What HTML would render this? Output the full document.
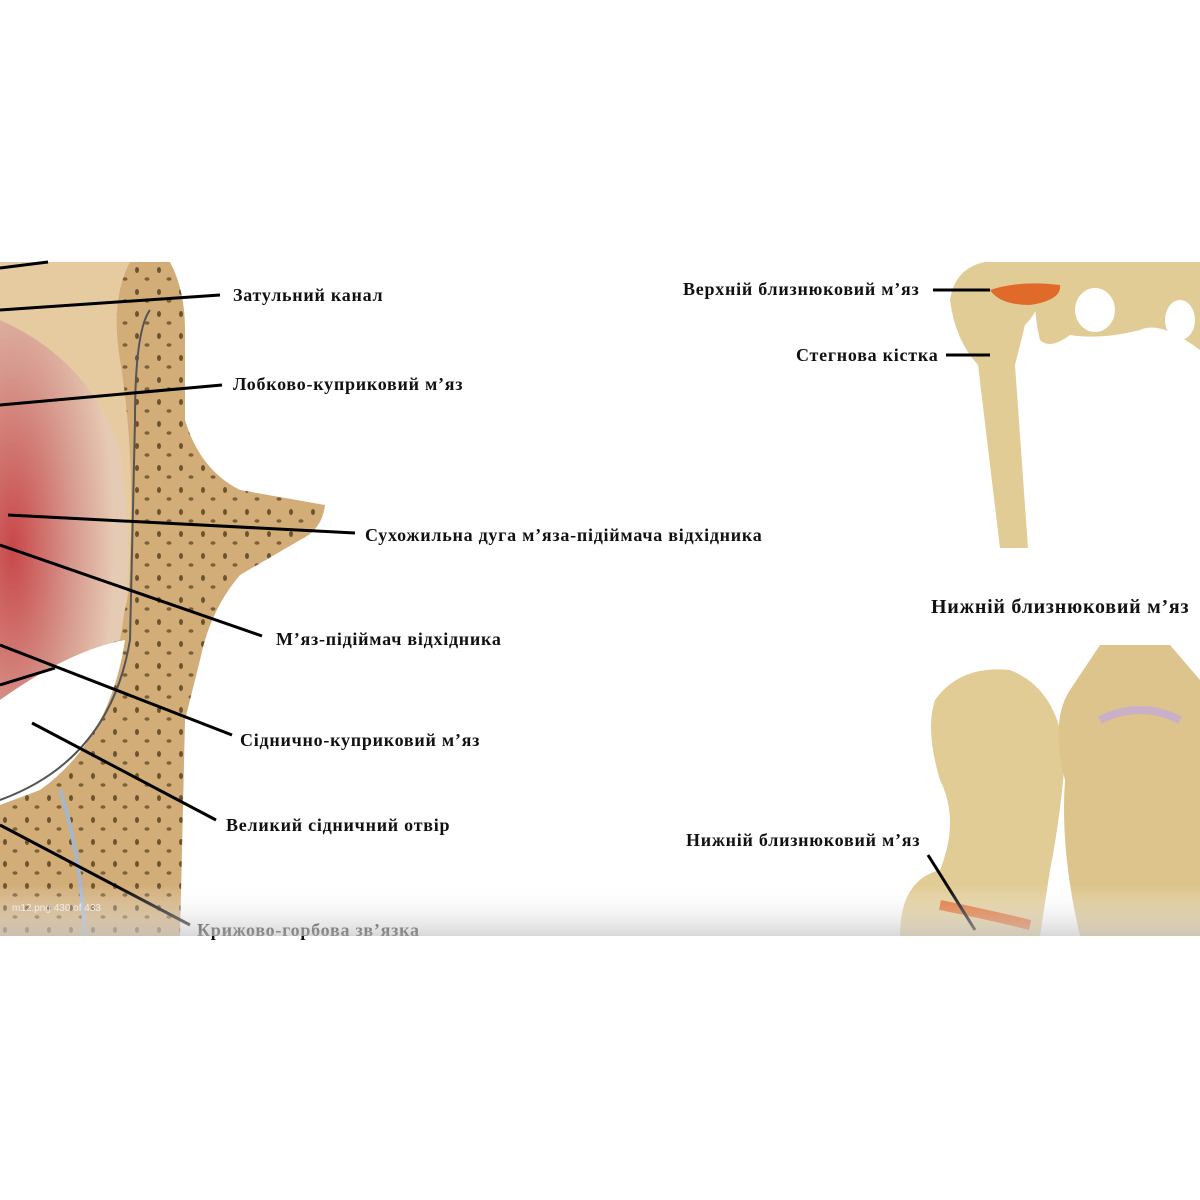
<!DOCTYPE html>
<html><head><meta charset="utf-8"><style>
body{margin:0;width:1200px;height:1200px;background:#fff;overflow:hidden}
svg{display:block}
text{font-family:"Liberation Serif",serif;font-weight:bold;font-size:18px;letter-spacing:0.75px;fill:#111}
</style></head><body>
<svg width="1200" height="1200" viewBox="0 0 1200 1200">
<defs>
<linearGradient id="bar" x1="0" y1="0" x2="0" y2="1"><stop offset="0" stop-color="#fff" stop-opacity="0"/><stop offset="1" stop-color="#c8c8c8" stop-opacity="0.7"/></linearGradient>
<radialGradient id="mus" cx="0.1" cy="0.6" r="0.8"><stop offset="0" stop-color="#c8474a"/><stop offset="0.6" stop-color="#d79a8e"/><stop offset="1" stop-color="#e6cbb4"/></radialGradient>
<pattern id="dots" width="22" height="22" patternUnits="userSpaceOnUse"><rect width="22" height="22" fill="#d2ad78"/><ellipse cx="5" cy="6" rx="2" ry="3" fill="#6b5330"/><ellipse cx="15" cy="15" rx="2.5" ry="1.8" fill="#7a5f38"/></pattern>
</defs>
<rect x="0" y="262" width="150" height="674" fill="#e0c28e"/>
<path d="M150,262 L170,262 Q185,290 185,330 L185,420 Q200,470 240,490 L325,505 Q322,530 300,540 L240,575 Q210,610 200,660 L185,720 L180,936 L0,936 L0,262 Z" fill="url(#dots)"/>
<path d="M0,262 L130,262 Q110,300 120,360 Q135,450 130,560 Q130,620 110,640 L0,690 Z" fill="#e6cba0"/>
<path d="M0,320 Q90,360 120,450 Q135,560 120,640 Q60,660 0,700 Z" fill="url(#mus)"/>
<path d="M0,700 Q70,650 125,640 Q110,740 40,790 L0,805 Z" fill="#fff"/>
<path d="M150,310 Q135,330 135,420 L130,640 Q110,760 0,800" fill="none" stroke="#555" stroke-width="2"/>
<path d="M60,790 Q80,850 85,936" fill="none" stroke="#a8b6cc" stroke-width="4"/>
<g stroke="#000" stroke-width="3" fill="none">
<line x1="0" y1="310" x2="220" y2="295"/>
<line x1="0" y1="405" x2="222" y2="385"/>
<line x1="8" y1="515" x2="355" y2="533"/>
<line x1="0" y1="545" x2="262" y2="636"/>
<line x1="0" y1="645" x2="232" y2="735"/>
<line x1="0" y1="685" x2="55" y2="668"/>
<line x1="32" y1="723" x2="216" y2="820"/>
<line x1="0" y1="825" x2="190" y2="925"/>
<line x1="0" y1="268" x2="48" y2="262"/>
</g>
<text x="233" y="301">Затульний канал</text>
<text x="233" y="390">Лобково-куприковий м’яз</text>
<text x="365" y="541">Сухожильна дуга м’яза-підіймача відхідника</text>
<text x="276" y="645">М’яз-підіймач відхідника</text>
<text x="240" y="746">Сіднично-куприковий м’яз</text>
<text x="226" y="831">Великий сідничний отвір</text>
<text x="197" y="936">Крижово-горбова зв’язка</text>
<path d="M950,300 Q955,268 985,262 L1040,262 Q1050,300 1025,325 L1015,365 L1028,548 L1000,548 L978,365 Q955,340 950,300 Z" fill="#e2cc96"/>
<path d="M1040,262 L1200,262 L1200,350 Q1160,320 1140,330 Q1100,340 1070,335 Q1050,350 1040,340 Q1030,300 1040,262 Z" fill="#e2cc96"/>
<ellipse cx="1095" cy="310" rx="20" ry="22" fill="#fff"/>
<ellipse cx="1180" cy="320" rx="15" ry="20" fill="#fff"/>
<path d="M990,290 Q1020,280 1060,285 Q1062,300 1030,305 Q1000,305 990,290Z" fill="#e06a2a"/>
<line x1="933" y1="290" x2="990" y2="290" stroke="#000" stroke-width="3"/>
<line x1="946" y1="355" x2="990" y2="355" stroke="#000" stroke-width="3"/>
<text x="683" y="295">Верхній близнюковий м’яз</text>
<text x="796" y="361">Стегнова кістка</text>
<text x="931" y="613" style="font-size:20px">Нижній близнюковий м’яз</text>
<path d="M935,700 Q960,665 1010,670 Q1060,690 1065,760 Q1060,820 1050,870 L1040,936 L900,936 Q900,880 940,870 Q960,820 940,780 Q925,730 935,700Z" fill="#e2cc96"/>
<path d="M1070,690 L1100,645 L1170,645 L1200,680 L1200,936 L1080,936 Q1060,850 1065,780 Q1050,720 1070,690Z" fill="#dcc48c"/>
<path d="M1100,720 Q1140,700 1180,720" stroke="#c9b0c8" stroke-width="8" fill="none"/>
<path d="M940,905 Q990,915 1030,925" stroke="#e06a2a" stroke-width="10" fill="none"/>
<line x1="928" y1="855" x2="975" y2="930" stroke="#000" stroke-width="3"/>
<text x="686" y="846">Нижній близнюковий м’яз</text>
<rect x="0" y="885" width="1200" height="51" fill="url(#bar)"/>
<text x="12" y="911" style="font-size:10px;fill:#eee;font-family:'Liberation Sans',sans-serif;font-weight:normal;letter-spacing:0">m12.png 430 of 433</text>
</svg>
</body></html>
